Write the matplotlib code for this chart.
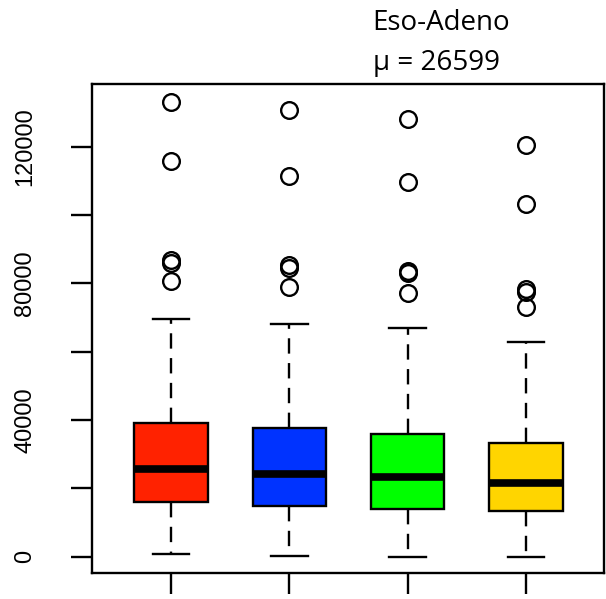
import matplotlib
matplotlib.use("Agg")
import matplotlib.pyplot as plt

# ── Data ──────────────────────────────────────────────────────
groups   = ["A", "B", "C", "D"]
whislo   = [730, 150, 0, 0]
q1       = [15960, 14790, 13910, 13230]
med      = [25620, 24160, 23370, 21430]
q3       = [39090, 37620, 35870, 33150]
whishi   = [69540, 68070, 66820, 62800]
fliers   = [
    [80670, 85940, 86820, 115790, 133080],
    [78910, 84470, 85350, 111410, 130740],
    [77160, 83010, 83600, 109650, 128100],
    [73050, 77440, 78320, 103210, 120490],
]
colors   = ["#FF2200", "#0033FF", "#00FF00", "#FFD500"]
title    = "Eso-Adeno"
mu_label = "\u03bc = 26599"
yticks   = [0, 20000, 40000, 60000, 80000, 100000, 120000]
ylabels  = ["0", "", "40000", "", "80000", "", "120000"]

stats = [dict(label=g, whislo=a, q1=b, med=c, q3=d, whishi=e, fliers=f)
         for g, a, b, c, d, e, f in zip(groups, whislo, q1, med, q3, whishi, fliers)]

fig = plt.figure(figsize=(6.06, 5.99), dpi=100)
ax = fig.add_axes([0.1518, 0.0434, 0.8449, 0.8164])

bp = ax.bxp(stats, positions=[1, 2, 3, 4], widths=0.62, patch_artist=True,
            boxprops=dict(linewidth=1.7, edgecolor="black"),
            medianprops=dict(color="black", linewidth=5.5, solid_capstyle="butt"),
            whiskerprops=dict(color="black", linewidth=1.7, linestyle=(0, (6.5, 4))),
            capprops=dict(color="black", linewidth=1.7),
            flierprops=dict(marker="o", markersize=12, markerfacecolor="none",
                            markeredgecolor="black", markeredgewidth=1.7),
            capwidths=0.31)
for patch, c in zip(bp["boxes"], colors):
    patch.set_facecolor(c)

ax.set_xlim(0.332, 4.66)
ax.set_ylim(-4830, 138350)
ax.set_xticks([1, 2, 3, 4])
ax.set_xticklabels([])
ax.set_yticks(yticks)
ax.set_yticklabels(ylabels, rotation=90, va="center", fontsize=17,
                   family="Liberation Sans")
ax.tick_params(axis="both", length=15, width=1.7, direction="out")
ax.tick_params(axis="y", pad=25)
for sp in ax.spines.values():
    sp.set_linewidth(1.7)

fig.text(0.615, 0.961, title, fontsize=20, family="Open Sans", va="center", ha="left")
fig.text(0.615, 0.895, mu_label, fontsize=20, family="Open Sans", va="center", ha="left")

plt.savefig("out.png", dpi=100)
